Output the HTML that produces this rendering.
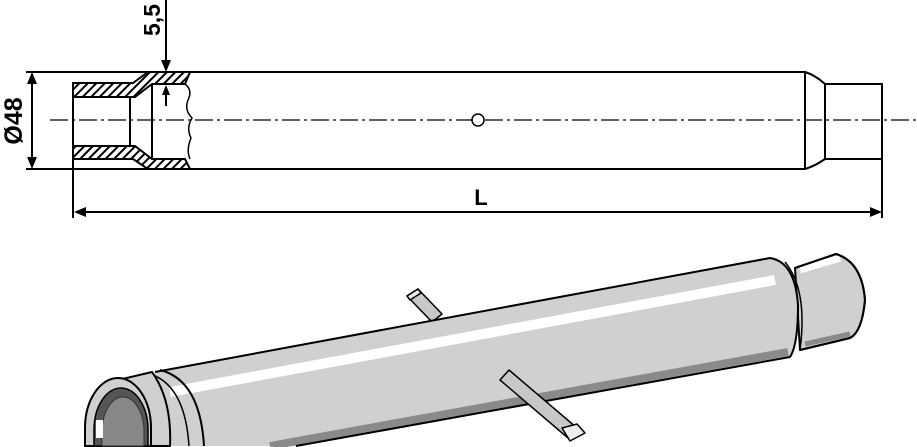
<!DOCTYPE html>
<html><head><meta charset="utf-8"><style>
html,body{margin:0;padding:0;background:#fff;width:917px;height:447px;overflow:hidden;}
svg{display:block;}
text{font-family:"Liberation Sans",Arial,sans-serif;font-weight:bold;fill:#000;}
</style></head><body>
<svg width="917" height="447" viewBox="0 0 917 447" xmlns="http://www.w3.org/2000/svg">
<defs>
<pattern id="h" width="6" height="6" patternUnits="userSpaceOnUse" patternTransform="rotate(45)">
<rect width="6" height="6" fill="#fff"/><rect width="2" height="6" fill="#000"/>
</pattern>
</defs>
<g stroke="#000" stroke-width="2" fill="none">
<line x1="26" y1="72" x2="806" y2="72"/>
<line x1="26" y1="169" x2="806" y2="169"/>
<line x1="73" y1="83" x2="73" y2="218"/>
<path d="M73,83 L133,83 L148,72 L190,72 L185,84 L152,84 L135,97 L73,97 Z" fill="url(#h)"/>
<path d="M73,146 L135,146 L152,159 L185,159 L190,169 L148,169 L133,159 L73,159 Z" fill="url(#h)"/>
<line x1="130" y1="97" x2="130" y2="146"/>
<line x1="152" y1="84" x2="152" y2="159"/>
<path d="M185,84 Q193,90 188,100 Q184,110 192,118 Q186,128 191,138 Q186,150 190,159" stroke-width="1.5"/>
<line x1="805" y1="72" x2="805" y2="169"/>
<path d="M805,72 Q815,75 825,84 L882,84 L882,218 M825,84 L825,159 M805,169 Q815,166 825,159 L882,159"/>
<line x1="50" y1="120" x2="917" y2="120" stroke-width="1.3" stroke-dasharray="18,4,3,4"/>
<circle cx="478" cy="120" r="6" fill="#fff" stroke-width="1.5"/>
<line x1="32" y1="80" x2="32" y2="161"/>
<line x1="166" y1="0" x2="166" y2="62"/>
<line x1="166" y1="95" x2="166" y2="106"/>
<line x1="82" y1="212" x2="874" y2="212"/>
</g>
<g fill="#000">
<polygon points="32,72 27,84 37,84"/>
<polygon points="32,169 27,157 37,157"/>
<polygon points="166,72 161,60 171,60"/>
<polygon points="166,85 162,95 170,95"/>
<polygon points="74,212 86,207 86,217"/>
<polygon points="882,212 870,207 870,217"/>
</g>
<text x="0" y="0" font-size="25" transform="translate(22,121) rotate(-90)" text-anchor="middle">Ø48</text>
<text x="0" y="0" font-size="23" transform="translate(160,20) rotate(-90)" text-anchor="middle">5,5</text>
<text x="481" y="205" font-size="22" text-anchor="middle">L</text>

<g stroke="#000" stroke-width="2" stroke-linejoin="round">
<path d="M407,296 L418,289 L442,314 L432,322 Z" fill="#c8c8c8" stroke-width="1.5"/>
<path d="M407,296 L418,289 L421,293 L410,300 Z" fill="#eee" stroke-width="1.5"/>
<path d="M795,268 L836,254 Q862,262 865,300 Q862,332 850,338 L800,350 Z" fill="#d0d0d0"/>
<path d="M800,270 L840,258" stroke="#fff" stroke-width="7" fill="none"/>
<path d="M805,344 L850,334" stroke="#8a8a8a" stroke-width="5" fill="none"/>
<path d="M795,268 L836,254 Q862,262 865,300 Q862,332 850,338 L800,350" fill="none"/>
<path d="M155,372 L770,258 Q795,262 798,305 Q798,345 790,357 L296,446 L155,446 Z" fill="#d0d0d0" stroke="none"/>
<path d="M170,392 L775,280" stroke="#fff" stroke-width="10" fill="none"/>
<path d="M270,446 L788,352" stroke="#8a8a8a" stroke-width="8" fill="none"/>
<path d="M155,372 L770,258 Q795,262 798,305 Q798,345 790,357 L296,446" fill="none"/>
<path d="M785,262 Q808,290 800,350" fill="none" stroke-width="1.5"/>
<path d="M160,370 Q200,380 204,446" fill="none"/>
<path d="M150,374 Q185,385 189,446" fill="none" stroke-width="1.5"/>
<path d="M118,380 L152,372 Q172,400 170,446 L90,446 Z" fill="#d0d0d0"/>
<path d="M85,428 A33,50 0 0 1 151,428 L151,446 L85,446 Z" fill="#d0d0d0"/>
<path d="M94,430 A27,42 0 0 1 148,430 L148,446 L94,446 Z" fill="#555" stroke-width="1.5"/>
<path d="M102,432 A21,35 0 0 1 144,432 L144,446 L102,446 Z" fill="#888" stroke="#333" stroke-width="1"/>
<rect x="96" y="420" width="7" height="18" fill="#fff" stroke="none"/>
<path d="M500,380 L509,370 L577,428 L568,438 Z" fill="#c8c8c8" stroke-width="1.5"/>
<path d="M562,428 L577,424 L585,433 L570,441 Z" fill="#eee" stroke-width="1.5"/>
</g>
</svg>
</body></html>
